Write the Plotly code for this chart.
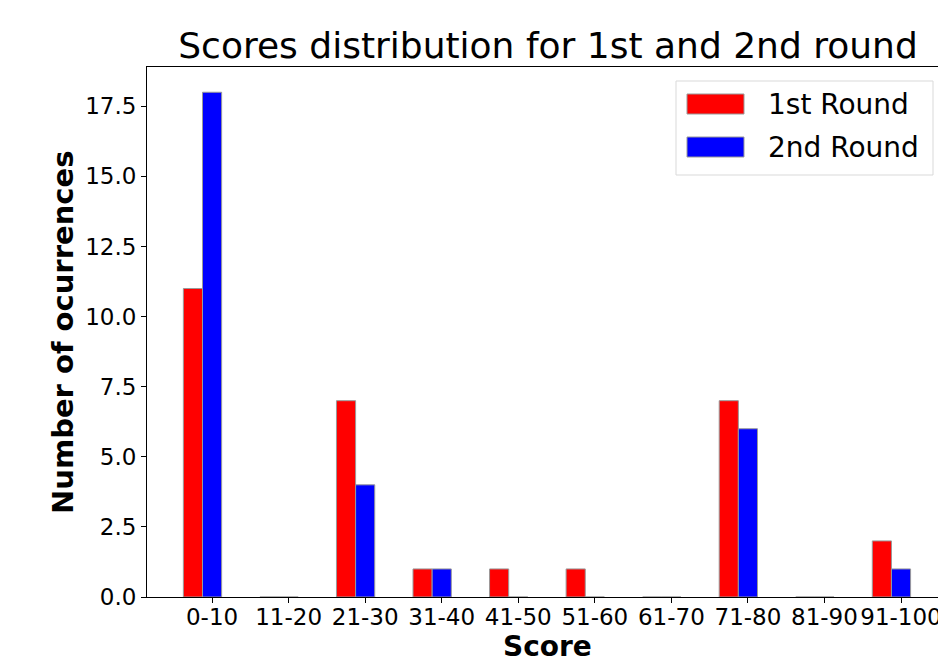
import plotly.graph_objects as go

categories = ["0-10", "11-20", "21-30", "31-40", "41-50", "51-60", "61-70", "71-80", "81-90", "91-100"]
round1 = [11, 0, 7, 1, 1, 1, 0, 7, 0, 2]
round2 = [18, 0, 4, 1, 0, 0, 0, 6, 0, 1]
series_names = ["1st Round", "2nd Round"]
series_colors = ["#ff0000", "#0000ff"]
ytick_vals = [0, 2.5, 5, 7.5, 10, 12.5, 15, 17.5]

W, H = 938, 657
L, T, R, B = 147, 67, 0, 60
PW, PH = W - L - R, H - T - B
FONT = "DejaVu Sans"

idx = list(range(len(categories)))
bw = 0.25

fig = go.Figure()
fig.add_trace(go.Bar(x=[i - bw for i in idx], y=round1, width=bw, name=series_names[0],
                     marker=dict(color=series_colors[0], line=dict(color="#999999", width=1)),
                     showlegend=False))
fig.add_trace(go.Bar(x=idx, y=round2, width=bw, name=series_names[1],
                     marker=dict(color=series_colors[1], line=dict(color="#999999", width=1)),
                     showlegend=False))

def px(x):
    return (x - L) / PW

def py(y):
    return (H - B - y) / PH

shapes = []
annotations = []
# legend box
shapes.append(dict(type="rect", xref="paper", yref="paper", x0=px(676), x1=px(933), y0=py(175), y1=py(81),
                   line=dict(color="#d9d9d9", width=1), fillcolor="rgba(255,255,255,0.8)", layer="above"))
for k, (yt, yb, ty) in enumerate([(94, 114, 104), (137, 157, 147)]):
    shapes.append(dict(type="rect", xref="paper", yref="paper", x0=px(687), x1=px(744), y0=py(yb), y1=py(yt),
                       line=dict(color="#999999", width=1), fillcolor=series_colors[k], layer="above"))
    annotations.append(dict(text=series_names[k], xref="paper", yref="paper", x=px(766), y=py(ty),
                            xanchor="left", yanchor="middle", showarrow=False,
                            font=dict(family=FONT, size=28, color="black")))
# axis titles
annotations.append(dict(text="<b>Number of ocurrences</b>", xref="paper", yref="paper", x=px(63), y=py(333),
                        xanchor="center", yanchor="middle", textangle=-90, showarrow=False,
                        font=dict(family=FONT, size=29, color="black")))
annotations.append(dict(text="<b>Score</b>", xref="paper", yref="paper", x=px(547), y=py(646),
                        xanchor="center", yanchor="middle", showarrow=False,
                        font=dict(family=FONT, size=28, color="black")))

fig.update_layout(
    width=W, height=H,
    margin=dict(l=L, r=R, t=T, b=B, autoexpand=False),
    paper_bgcolor="white", plot_bgcolor="white",
    barmode="overlay",
    font=dict(family=FONT, color="black"),
    title=dict(text="Scores distribution for 1st and 2nd round", x=548 / W, xref="container",
               xanchor="center", y=1 - 45 / H, yref="container", yanchor="middle",
               font=dict(family=FONT, size=36, color="black")),
    shapes=shapes, annotations=annotations,
    xaxis=dict(range=[-0.85, -0.85 + PW / 76.55], tickvals=idx, ticktext=categories,
               showgrid=False, zeroline=False, showline=True, linecolor="black", linewidth=1, mirror=True,
               ticks="outside", ticklen=5, tickcolor="black", tickfont=dict(family=FONT, size=23),
               automargin=False, ticklabeloverflow="allow", ticklabelstandoff=-6),
    yaxis=dict(range=[0, 18.9], tickvals=ytick_vals, tickformat=".1f",
               showgrid=False, zeroline=False, showline=True, linecolor="black", linewidth=1, mirror=True,
               ticks="outside", ticklen=5, tickcolor="black", tickfont=dict(family=FONT, size=23),
               automargin=False, ticklabeloverflow="allow"),
)

fig.write_html("out.html", config={"displayModeBar": False},
               post_script="document.body.style.margin='0';document.body.style.overflow='hidden';")
